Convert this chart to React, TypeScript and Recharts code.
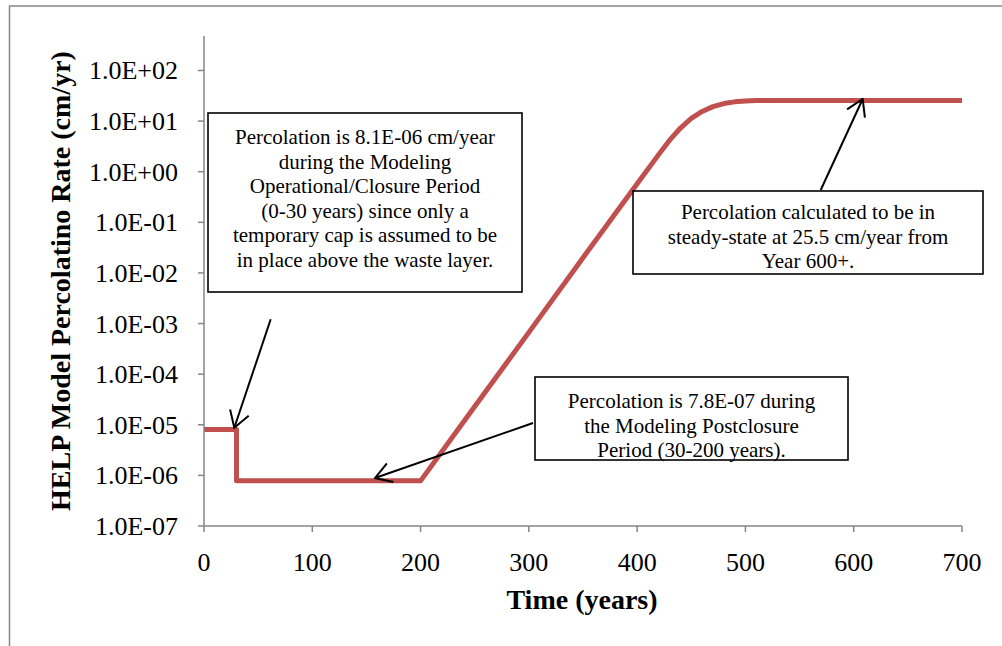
import { LineChart, Line, XAxis, YAxis } from 'recharts';

// Percolation rate vs time
const years = [0, 30, 30, 200, 250, 300, 350, 400, 420, 430, 440, 450, 460, 470, 480, 490, 500, 510, 520, 600, 700];
const rates = [
  8.1e-6, 8.1e-6, 7.8e-7, 7.8e-7, 2.3e-5, 6.7e-4, 2.0e-2, 0.58, 2.2, 4.2, 7.3, 11.3, 15.5, 19.3, 22.2, 24.0,
  25.0, 25.4, 25.5, 25.5, 25.5,
];

const xTicks = [0, 100, 200, 300, 400, 500, 600, 700];
const yTicks = [1e-7, 1e-6, 1e-5, 1e-4, 1e-3, 1e-2, 1e-1, 1, 10, 100];
const yTickLabels = [
  '1.0E-07', '1.0E-06', '1.0E-05', '1.0E-04', '1.0E-03',
  '1.0E-02', '1.0E-01', '1.0E+00', '1.0E+01', '1.0E+02',
];

const noteOperational = [
  'Percolation is 8.1E-06 cm/year',
  'during the Modeling',
  'Operational/Closure Period',
  '(0-30 years) since only a',
  'temporary cap is assumed to be',
  'in place above the waste layer.',
];
const noteSteady = ['Percolation calculated to be in', 'steady-state at 25.5 cm/year from', 'Year 600+.'];
const notePost = ['Percolation is 7.8E-07 during', 'the Modeling Postclosure', 'Period (30-200 years).'];

const data = years.map((t, i) => ({ t, rate: rates[i] }));

const FONT = '"Liberation Serif", "Times New Roman", serif';
const AXIS = '#868686';

function XTick(props: any) {
  const { x, y, payload } = props;
  return (
    <text x={x} y={y} dy={37} textAnchor="middle" fontFamily={FONT} fontSize={26} fill="#000">
      {payload.value}
    </text>
  );
}

function YTick(props: any) {
  const { x, y, payload } = props;
  const idx = yTicks.findIndex((v) => Math.abs(Math.log10(v) - Math.log10(payload.value)) < 1e-6);
  return (
    <text x={x - 18} y={y} dy={9} textAnchor="end" fontFamily={FONT} fontSize={26} fill="#000">
      {idx >= 0 ? yTickLabels[idx] : ''}
    </text>
  );
}

function Note({ x, y, w, h, lines, first }: { x: number; y: number; w: number; h: number; lines: string[]; first: number }) {
  return (
    <g>
      <rect x={x} y={y} width={w} height={h} fill="#fff" stroke="#000" strokeWidth={1.6} />
      {lines.map((s, i) => (
        <text key={i} x={x + w / 2} y={first + i * 24.6} textAnchor="middle" fontFamily={FONT} fontSize={21} fill="#000">
          {s}
        </text>
      ))}
    </g>
  );
}

export default function App() {
  return (
    <div style={{ position: 'absolute', left: 0, top: 0, width: 1002, height: 646, background: '#fff', overflow: 'hidden' }}>
      <LineChart width={1002} height={646} data={data} margin={{ top: 36, right: 40, bottom: 60, left: 54 }}>
        <XAxis
          dataKey="t"
          type="number"
          domain={[0, 700]}
          ticks={xTicks}
          interval={0}
          height={60}
          tickSize={6}
          stroke={AXIS}
          strokeWidth={1.5}
          tick={<XTick />}
        />
        <YAxis
          type="number"
          scale="log"
          domain={[1e-7, 480]}
          allowDataOverflow
          ticks={yTicks}
          interval={0}
          width={150}
          tickSize={6}
          stroke={AXIS}
          strokeWidth={1.5}
          tick={<YTick />}
        />
        <Line
          dataKey="rate"
          type="linear"
          stroke="#C0504D"
          strokeWidth={5}
          dot={false}
          strokeLinejoin="round"
          isAnimationActive={false}
        />
      </LineChart>
      <svg width={1002} height={646} style={{ position: 'absolute', left: 0, top: 0, pointerEvents: 'none' }}>
        <defs>
          <marker id="head" viewBox="0 0 18 22" refX={16.5} refY={11} markerWidth={18} markerHeight={22} orient="auto" markerUnits="userSpaceOnUse">
            <path d="M0.5,1.2 L16.5,11 L0.5,20.8" fill="none" stroke="#000" strokeWidth={2} />
          </marker>
        </defs>
        <rect x={9.5} y={6} width={1010} height={660} fill="none" stroke="#888" strokeWidth={1.5} />
        <text
          transform="translate(70,281) rotate(-90)"
          textAnchor="middle"
          fontFamily={FONT}
          fontSize={28}
          fontWeight="bold"
          fill="#000"
        >
          HELP Model Percolatino Rate (cm/yr)
        </text>
        <text x={582} y={609} textAnchor="middle" fontFamily={FONT} fontSize={28} fontWeight="bold" fill="#000">
          Time (years)
        </text>
        <Note x={208} y={113} w={314} h={179} lines={noteOperational} first={144} />
        <Note x={633} y={191} w={350} h={83} lines={noteSteady} first={219} />
        <Note x={535} y={377} w={313} h={83} lines={notePost} first={408} />
        <line x1={270.7} y1={319.3} x2={234.3} y2={427.7} stroke="#000" strokeWidth={2} markerEnd="url(#head)" />
        <line x1={533} y1={423} x2={375} y2={478} stroke="#000" strokeWidth={2} markerEnd="url(#head)" />
        <line x1={820.7} y1={190} x2={862.7} y2={99} stroke="#000" strokeWidth={2} markerEnd="url(#head)" />
      </svg>
    </div>
  );
}
